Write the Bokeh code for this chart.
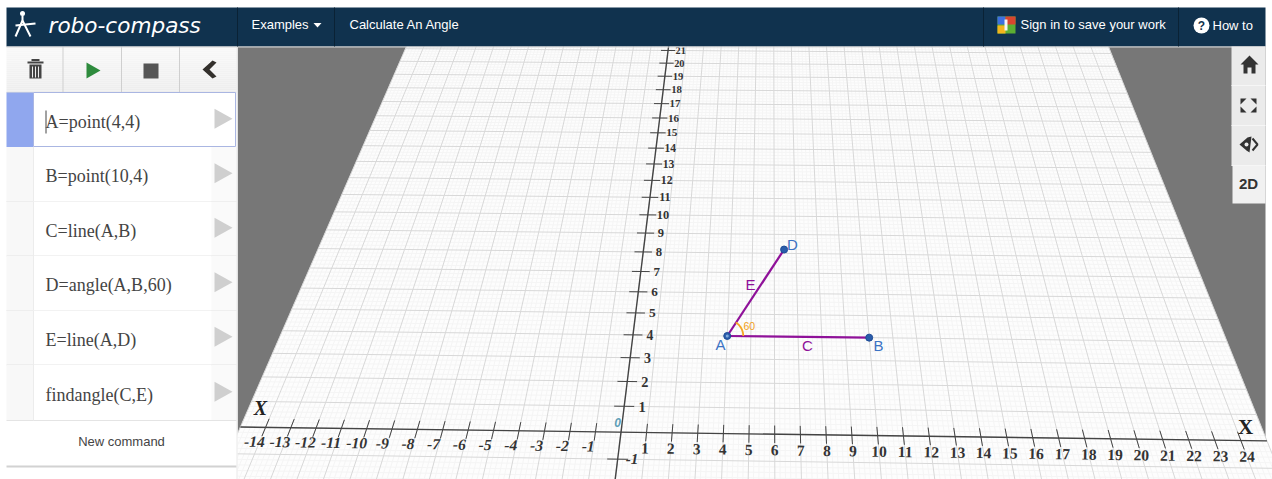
import numpy as np
from bokeh.plotting import figure
from bokeh.models import ColumnDataSource
from bokeh.core.properties import value
from bokeh.embed import file_html
from bokeh.resources import INLINE

# ---- chart content ----
x_ticks = [v for v in range(-14, 25) if v != 0]
y_ticks = [v for v in range(-2, 22) if v != 0]
y_tick_labels = [v for v in range(-1, 22) if v != 0]
grid_x = (-15, 25)
grid_y = (-4, 23)
commands = ["A=point(4,4)", "B=point(10,4)", "C=line(A,B)",
            "D=angle(A,B,60)", "E=line(A,D)", "findangle(C,E)"]
point_names = ["A", "B", "D"]
point_x = [4.0, 10.0, 6.45]
point_y = [4.0, 4.0, 8.2]
segments = [("A", "B"), ("A", "D")]
angle_value = "60"

# ---- perspective of the plane (world x, y -> page px) ----
calibration = [(-14, 0, 265, 425), (1, 0, 646.7, 431.5), (11, 0, 903, 436), (24, 0, 1241.7, 442.7),
               (0, 4, 633.3, 335), (0, 10, 647.7, 215), (0, 15, 659, 133.3), (0, 21, 669, 50.7),
               (-15, 21.3, 405, 46), (25, 21.3, 1108, 46), (-15, 0, 238, 424), (25, 0, 1264, 441),
               (4, 4, 727, 335), (10, 4, 869.3, 337.3)]
A_, b_ = [], []
for X, Y, u, v in calibration:
    A_.append([X, Y, 1, 0, 0, 0, -u * X, -u * Y]); b_.append(u)
    A_.append([0, 0, 0, X, Y, 1, -v * X, -v * Y]); b_.append(v)
h = np.linalg.lstsq(np.array(A_, float), np.array(b_, float), rcond=None)[0]


def proj(X, Y):
    X = np.asarray(X, float); Y = np.asarray(Y, float)
    w = h[6] * X + h[7] * Y + 1
    return (h[0] * X + h[1] * Y + h[2]) / w, (h[3] * X + h[4] * Y + h[5]) / w


def scale_at(X, Y):
    a, _ = proj(X - 0.5, Y); c, _ = proj(X + 0.5, Y)
    return float(c - a) / 25.7


def seg(x0, y0, x1, y1):
    a, b = proj(x0, y0); c, d = proj(x1, y1)
    return [float(a), float(c)], [float(b), float(d)]


p = figure(width=1272, height=479, x_range=(0, 1272), y_range=(479, 0),
           output_backend="svg", toolbar_location=None, min_border=0,
           outline_line_color=None, background_fill_color="white", border_fill_color="white")
p.axis.visible = False
p.grid.visible = False

SANS = value("Liberation Sans")
SERIF = value("Liberation Serif")


def rect(x0, y0, x1, y1, color):
    p.quad(left=x0, right=x1, top=y0, bottom=y1, fill_color=color, line_color=None)


def hline(x0, x1, y, color, w=1):
    p.line([x0, x1], [y, y], line_color=color, line_width=w)


def vline(x, y0, y1, color, w=1):
    p.line([x, x], [y0, y1], line_color=color, line_width=w)


def poly(xs, ys, color):
    p.patch(xs, ys, fill_color=color, line_color=None)


def label(x, y, s, size, color, font=SANS, style="normal", align="left", angle=0.0):
    p.text([x], [y], text=[s], text_font=font, text_font_size=value(f"{size}px"),
           text_font_style=style, text_color=color, text_align=align,
           text_baseline="middle", angle=angle)


# ---- scene ----
rect(237, 46, 1265, 479, "#777777")
cx, cy = proj([grid_x[0], grid_x[1], grid_x[1], grid_x[0]], [grid_y[0], grid_y[0], grid_y[1], grid_y[1]])
poly(list(cx), list(cy), "#fdfdfd")

mx, my, Mx, My = [], [], [], []
for i in range(grid_x[0] * 5, grid_x[1] * 5 + 1):
    a, b = seg(i / 5, grid_y[0], i / 5, grid_y[1])
    (Mx if i % 5 == 0 else mx).append(a); (My if i % 5 == 0 else my).append(b)
for i in range(grid_y[0] * 5, grid_y[1] * 5 + 1):
    a, b = seg(grid_x[0], i / 5, grid_x[1], i / 5)
    (Mx if i % 5 == 0 else mx).append(a); (My if i % 5 == 0 else my).append(b)
p.multi_line(mx, my, line_color="#f5f5f5", line_width=1)
p.multi_line(Mx, My, line_color="#d8d8d8", line_width=1)

# axes
a, b = seg(grid_x[0], 0, grid_x[1], 0)
p.line(a, b, line_color="#444444", line_width=1.4)
a, b = seg(0, grid_y[0], 0, grid_y[1])
p.line(a, b, line_color="#444444", line_width=1.4)
tx, ty = [], []
for v in x_ticks:
    a, b = seg(v, -0.33, v, 0.33); tx.append(a); ty.append(b)
for v in y_ticks:
    a, b = seg(-0.4, v, 0.4, v); tx.append(a); ty.append(b)
p.multi_line(tx, ty, line_color="#444444", line_width=1)

# tick labels
for sign, style, vals in [("neg", "bold italic", [v for v in x_ticks if v < 0]),
                          ("pos", "bold", [v for v in x_ticks if v > 0])]:
    lx, ly = proj(np.array(vals, float) - (0.2 if sign == "neg" else 0.0),
                  np.full(len(vals), -0.55 if sign == "neg" else -0.6))
    p.text(lx, ly, text=[str(v) for v in vals], text_font=SERIF, text_font_style=style,
           text_font_size=value("15.5px"), text_color="#333333", text_align="center",
           text_baseline="middle", angle=-0.018)
for style, vals in [("bold", [v for v in y_tick_labels if v > 0]), ("bold italic", [v for v in y_tick_labels if v < 0])]:
    off = np.array([0.72 if v > 0 else 0.55 for v in vals])
    lx, ly = proj(off, np.array(vals, float))
    sizes = [f"{15 * scale_at(0, v):.1f}px" for v in vals]
    src = ColumnDataSource(dict(x=lx, y=ly, t=[str(v) for v in vals], s=sizes))
    p.text("x", "y", text="t", source=src, text_font=SERIF, text_font_style=style,
           text_font_size="s", text_color="#333333", text_align="center", text_baseline="middle")

label(260, 407, "X", 20, "#222222", SERIF, "bold italic", "center")
label(1245, 426, "X", 21, "#222222", SERIF, "bold", "center")
label(617, 422, "0", 12, "#5f9fb8", SANS, "bold italic", "center")

# construction
pts = {n: (x, y) for n, x, y in zip(point_names, point_x, point_y)}
for s, e in segments:
    a, b = seg(*pts[s], *pts[e])
    p.line(a, b, line_color="#8f1199", line_width=2.2)
ax, ay = proj(*pts["A"])
t = np.radians(np.linspace(0, 58, 16))
p.line(float(ax) + 16 * np.cos(t), float(ay) - 16 * np.sin(t), line_color="#f5a623", line_width=1.8)
label(float(ax) + 22, float(ay) - 10, angle_value, 10.5, "#f0a020", SANS, "normal", "center")
px_, py_ = proj(point_x, point_y)
p.scatter(px_, py_, size=7, fill_color="#2a5caa", line_color="#1e4b96", line_width=1)
p.scatter([float(ax)], [float(ay)], size=3, fill_color="#7fa8dc", line_color=None)
label(720, 344, "A", 15, "#3b73c4", align="center")
label(878, 345, "B", 15, "#3b73c4", align="center")
label(792, 244, "D", 15, "#3b73c4", align="center")
label(750, 284, "E", 15, "#8f1199", align="center")
label(807, 345, "C", 15, "#8f1199", align="center")

# ---- left panel ----
rect(0, 46, 237, 479, "#ffffff")
for i in range(23):
    c = 248 - i // 2
    rect(6, 46 + i * 2, 236, 48 + i * 2, f"#{c:02x}{c:02x}{c:02x}")
for x in (62.5, 121, 179):
    vline(x, 46, 92, "#cfcfcf")
hline(6, 236, 92, "#dcdcdc")
rows_y = [92, 146.5, 201, 255.5, 310, 364.5, 420]
for i, text in enumerate(commands):
    y0, y1 = rows_y[i], rows_y[i + 1]
    rect(6, y0, 33, y1, "#90a7ee" if i == 0 else "#f8f8f8")
    rect(33, y0, 211, y1, "#ffffff")
    rect(211, y0, 236, y1, "#ffffff" if i == 0 else "#fafafa")
    poly([214, 232, 214], [(y0 + y1) / 2 - 11, (y0 + y1) / 2 - 1, (y0 + y1) / 2 + 9], "#cfcfcf")
    label(45, (y0 + y1) / 2 + 2, text, 18, "#444444", SERIF)
    if i:
        hline(6, 236, y1, "#e4e4e4")
    if i:
        vline(33, y0, y1, "#ececec")
p.line([33, 235, 235, 33, 33], [92, 92, 146, 146, 92], line_color="#aab6e2", line_width=1)
vline(45.5, 110, 133, "#444444")
rect(6, 465, 236, 467, "#d2d2d2")
label(121, 441, "New command", 13, "#444444", align="center")
vline(236.5, 46, 479, "#e8e8e8")

# toolbar icons
rect(29, 64, 41, 78, "#444444")
for x in (32, 35, 38):
    vline(x, 66, 77, "#eeeeee", 1)
rect(27, 61, 43, 63, "#444444")
rect(31, 58.5, 39, 60.5, "#444444")
poly([86, 100, 86], [62, 70, 78], "#2e8b3d")
rect(143, 63, 158, 78, "#555555")
poly([212, 202, 212, 216, 209, 216], [60, 69, 78, 76, 69, 62], "#33302c")

# ---- top bar ----
rect(6, 7, 1265, 46, "#10324e")
hline(6, 1265, 46.5, "#d8d8d8")
for x in (237, 334, 983, 1178):
    vline(x, 7, 46, "#0a2235")
p.line([15, 22, 30], [36, 20, 36], line_color="white", line_width=2)
p.line([15, 35], [25, 23], line_color="white", line_width=2)
p.scatter([22], [13], size=5, fill_color="white", line_color=None)
vline(22, 15, 20, "white", 2)
label(48, 24.5, "robo-compass", 21.6, "#ffffff", value("DejaVu Sans"), "italic")
label(251, 24, "Examples", 13, "#ffffff")
poly([313, 321, 317], [22.5, 22.5, 27], "#ffffff")
label(349, 24, "Calculate An Angle", 13, "#ffffff")
rect(997, 16, 1015, 33, "#5cae32")
rect(997, 16, 1005, 24, "#3d6fe0")
rect(1005, 16, 1015, 24, "#d9452f")
rect(997, 25, 1005, 33, "#f3b41c")
rect(1004, 19, 1007, 30, "#f4f4f4")
label(1020, 24, "Sign in to save your work", 13, "#ffffff")
p.scatter([1201], [25], size=16, fill_color="#ffffff", line_color=None)
label(1201, 25.5, "?", 12, "#10324e", SANS, "bold", "center")
label(1212, 25, "How to", 13, "#ffffff")

# ---- right tools ----
rect(1231, 46, 1265, 165, "#ebebeb")
rect(1232, 165, 1265, 203, "#f1f1f1")
for y in (85, 125, 165):
    hline(1231, 1265, y, "#f6f6f6")
poly([1249, 1258, 1255, 1255, 1251, 1251, 1247, 1247, 1243, 1243, 1240],
     [55, 64, 64, 73, 73, 67, 67, 73, 73, 64, 64], "#333333")
for sx, sy in [(-1, -1), (1, -1), (-1, 1), (1, 1)]:
    x0, y0 = 1248 + sx * 8, 105 + sy * 7
    poly([x0, x0 - sx * 6, x0], [y0, y0, y0 - sy * 6], "#333333")
poly([1239, 1247, 1251, 1249, 1246], [144, 137, 136, 152, 150], "#333333")
p.line([1252, 1257, 1252], [138, 144, 150], line_color="#333333", line_width=2)
p.scatter([1246], [144], size=4, fill_color="#ebebeb", line_color=None)
label(1248, 183, "2D", 15, "#333333", SANS, "bold", "center")

open("out.html", "w").write(file_html(p, INLINE))
